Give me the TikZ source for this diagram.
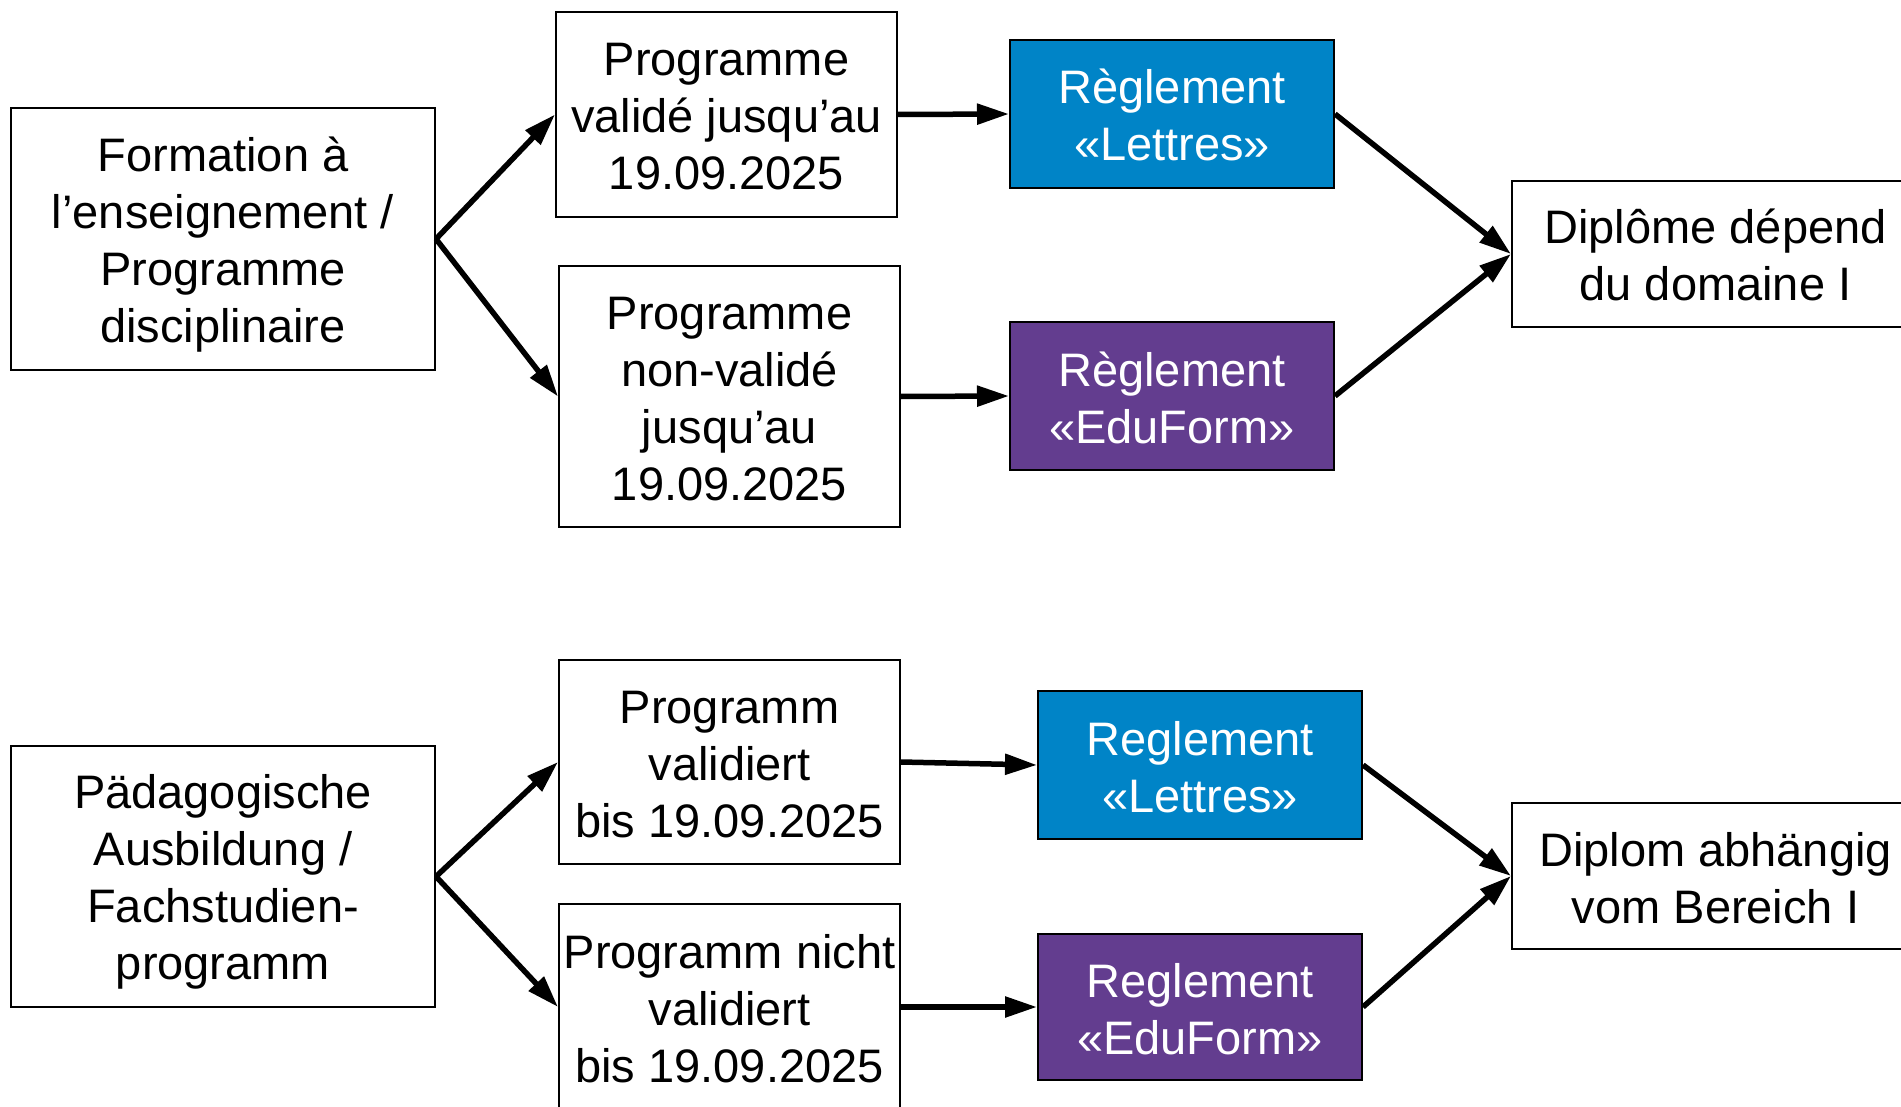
\documentclass[tikz,border=0pt]{standalone}
\usepackage{fontspec}
\setmainfont{Liberation Sans}
\usetikzlibrary{arrows.meta}
\definecolor{lettresblue}{RGB}{0,132,199}
\definecolor{eduviolet}{RGB}{99,61,143}
\newcommand{\tstrut}{\rule{0pt}{45pt}}
\newcommand{\bstrut}{\rule[-8pt]{0pt}{8pt}}
\tikzset{
  box/.style={draw=black, line width=2pt, fill=white, inner sep=0pt, align=center,
    font=\fontsize{47}{57}\selectfont, anchor=center},
  bluebox/.style={box, fill=lettresblue, text=white},
  violetbox/.style={box, fill=eduviolet, text=white},
  link/.style={line width=5.5pt, -{Triangle[length=32pt,width=20pt]}}
}
\begin{document}
\begin{tikzpicture}[x=1pt,y=-1pt]
\useasboundingbox (0,0) rectangle (1901,1107);
\clip (0,0) rectangle (1901,1107);
% top row
\node[box, minimum width=424pt, minimum height=262pt] (a1) at (223,239)
  {\tstrut Formation à\\l’enseignement /\\Programme\\disciplinaire\bstrut};
\node[box, minimum width=341pt, minimum height=205pt] (b1) at (726.5,114.5)
  {\tstrut Programme\\validé jusqu’au\\19.09.2025\bstrut};
\node[box, minimum width=341pt, minimum height=261pt] (c1) at (729.5,396.5)
  {\tstrut Programme\\non-validé\\jusqu’au\\19.09.2025\bstrut};
\node[bluebox, minimum width=324pt, minimum height=148pt] (d1) at (1172,114)
  {\tstrut Règlement\\«Lettres»\bstrut};
\node[violetbox, minimum width=324pt, minimum height=148pt] (e1) at (1172,396)
  {\tstrut Règlement\\«EduForm»\bstrut};
\node[box, minimum width=407pt, minimum height=146pt] (f1) at (1715.5,254)
  {\tstrut Diplôme dépend\\du domaine I\bstrut};
% bottom row
\node[box, minimum width=424pt, minimum height=261pt] (a2) at (223,876.5)
  {\tstrut Pädagogische\\Ausbildung /\\Fachstudien-\\programm\bstrut};
\node[box, minimum width=341pt, minimum height=204pt] (b2) at (729.5,762)
  {\tstrut Programm\\validiert\\bis 19.09.2025\bstrut};
\node[box, minimum width=341pt, minimum height=206pt] (c2) at (729.5,1007)
  {\tstrut Programm nicht\\validiert\\bis 19.09.2025\bstrut};
\node[bluebox, minimum width=324pt, minimum height=148pt] (d2) at (1200,765)
  {\tstrut Reglement\\«Lettres»\bstrut};
\node[violetbox, minimum width=324pt, minimum height=146pt] (e2) at (1200,1007)
  {\tstrut Reglement\\«EduForm»\bstrut};
\node[box, minimum width=407pt, minimum height=146pt] (f2) at (1715.5,876)
  {\tstrut Diplom abhängig\\vom Bereich I\bstrut};
% connectors top
\draw[link] (a1.east) -- (b1.west);
\draw[link] (a1.east) -- (c1.west);
\draw[link] (b1.east) -- (d1.west);
\draw[link] (c1.east) -- (e1.west);
\draw[link] (d1.east) -- (f1.west);
\draw[link] (e1.east) -- (f1.west);
% connectors bottom
\draw[link] (a2.east) -- (b2.west);
\draw[link] (a2.east) -- (c2.west);
\draw[link] (b2.east) -- (d2.west);
\draw[link] (c2.east) -- (e2.west);
\draw[link] (d2.east) -- (f2.west);
\draw[link] (e2.east) -- (f2.west);
\end{tikzpicture}
\end{document}
